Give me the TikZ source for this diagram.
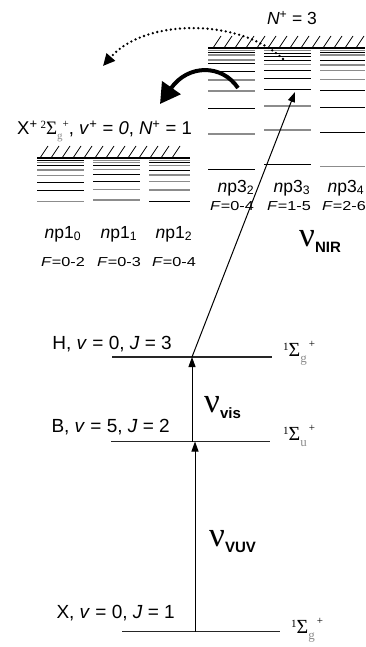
\documentclass[tikz,border=0pt]{standalone}
\usepackage{fontspec}
\setmainfont{Liberation Sans}
\newfontfamily\serifG{Liberation Serif}
\newfontfamily\wideF[FakeStretch=1.25]{Liberation Sans}
\usetikzlibrary{arrows.meta}
\definecolor{lvgray}{gray}{0.55}
\tikzset{
  lvlk/.style={draw=black, line width=0.9pt},
  lvlg/.style={draw=lvgray, line width=1.1pt},
  topline/.style={draw=black, line width=2pt},
  hatch/.style={draw=black, line width=0.8pt},
  mainlvl/.style={draw=black!85, line width=1.1pt},
  lbl/.style={font=\fontsize{19}{20}\selectfont, inner sep=0pt, anchor=base east},
  nplbl/.style={font=\fontsize{17.5}{18}\selectfont, inner sep=0pt, anchor=base},
  flbl/.style={font=\wideF\fontsize{13}{13}\selectfont, inner sep=0pt, anchor=base},
  siglbl/.style={inner sep=0pt, anchor=base west},
  exc/.style={draw=black, line width=1pt, -{Triangle[length=10pt,width=7pt]}},
  nulbl/.style={inner sep=0pt, anchor=base west}
}
\newcommand{\sigmalab}[1]{{\serifG\raisebox{6pt}{\fontsize{11}{11}\selectfont 1}\fontsize{20}{20}\selectfont Σ\raisebox{-6pt}{\color{lvgray}\fontsize{13}{13}\selectfont #1}\hspace{2pt}\raisebox{9pt}{\fontsize{11}{11}\selectfont +}}}
\newcommand{\nulab}[1]{{\serifG\fontsize{35}{35}\selectfont ν}\raisebox{-6pt}{\fontsize{15}{15}\selectfont\bfseries #1}}
\begin{document}
\begin{tikzpicture}[x=1pt,y=-1pt]
\useasboundingbox (0,0) rectangle (365,647);

% ---------- upper stack (N+ = 3)
\foreach \y/\c in {50.7/g,52.7/k,55/g,60/g,63.3/k,71.7/k,80/g,91/g,108.3/k,134/g,169.3/k}
  \draw[lvl\c] (208,\y) -- (255,\y);
\foreach \y/\c in {50.7/g,53.3/k,56.7/k,60/k,64.3/g,70/k,78.3/k,89.3/k,106/g,130/g,164.3/k}
  \draw[lvl\c] (264,\y) -- (311,\y);
\foreach \y/\c in {50.7/g,52.7/k,55/g,60/k,65/g,70.7/g,79.3/g,90.7/k,107.3/k,132.3/k,166.7/g}
  \draw[lvl\c] (320,\y) -- (365,\y);
\draw[topline] (208,48) -- (365,48);
\foreach \x in {213,224,...,357}
  \draw[hatch] (\x,48) -- (\x+8,36);

% ---------- lower stack (N+ = 1)
\foreach \y/\c in {160.7/k,162.7/g,165/k,170/g,175.7/g,182.3/k,190.7/k,201.7/g}
  \draw[lvl\c] (37,\y) -- (84,\y);
\foreach \y/\c in {160.7/g,162.7/g,165/k,169.3/g,174.3/k,181/k,189.3/g,200/g}
  \draw[lvl\c] (93,\y) -- (140,\y);
\foreach \y/\c in {160.7/g,162.7/k,165.7/g,170.7/k,175/g,181.7/g,190/g,201/k}
  \draw[lvl\c] (149,\y) -- (190,\y);
\draw[topline] (37,158) -- (190,158);
\foreach \x in {40,51,...,182}
  \draw[hatch] (\x,158) -- (\x+8,146);

% ---------- labels of the stacks
\node[inner sep=0pt, anchor=base, font=\fontsize{17.5}{18}\selectfont] (Nthree) at (292,25) {\textit{N}\textsuperscript{+} = 3};
\node[inner sep=0pt, anchor=base west, font=\fontsize{18.5}{20}\selectfont] (Xion) at (17,135)
  {X\textsuperscript{+}\,{\serifG\raisebox{6pt}{\fontsize{11}{11}\selectfont 2}\fontsize{19}{19}\selectfont Σ\raisebox{-5pt}{\color{lvgray}\fontsize{11}{11}\selectfont g}\raisebox{7pt}{\fontsize{11}{11}\selectfont +}}, \textit{v}\textsuperscript{+} = \textit{0}, \textit{N}\textsuperscript{+} = 1};

\node[nplbl] (np10) at (63,238) {\textit{n}p1\textsubscript{0}};
\node[nplbl] (np11) at (119,238) {\textit{n}p1\textsubscript{1}};
\node[nplbl] (np12) at (174,238) {\textit{n}p1\textsubscript{2}};
\node[flbl] (f10) at (63,266) {\textit{F}=0-2};
\node[flbl] (f11) at (119,266) {\textit{F}=0-3};
\node[flbl] (f12) at (174,266) {\textit{F}=0-4};

\node[nplbl] (np32) at (236,192) {\textit{n}p3\textsubscript{2}};
\node[nplbl] (np33) at (292,192) {\textit{n}p3\textsubscript{3}};
\node[nplbl] (np34) at (346,192) {\textit{n}p3\textsubscript{4}};
\node[flbl] (f32) at (232,210) {\textit{F}=0-4};
\node[flbl] (f33) at (289,210) {\textit{F}=1-5};
\node[flbl] (f34) at (344,210) {\textit{F}=2-6};

% ---------- molecular levels
\coordinate (Hl) at (112,357); \coordinate (Hr) at (272,357);
\coordinate (Bl) at (111,441.5); \coordinate (Br) at (270,441.5);
\coordinate (Xl) at (122,631.5); \coordinate (Xr) at (280,631.5);
\draw[mainlvl] (Hl) -- (Hr);
\draw[mainlvl] (Bl) -- (Br);
\draw[mainlvl] (Xl) -- (Xr);

\node[lbl] (Hlab) at (172,349) {H, \textit{v} = 0, \textit{J} = 3};
\node[lbl] (Blab) at (170,432) {B, \textit{v} = 5, \textit{J} = 2};
\node[lbl] (Xlab) at (175,618) {X, \textit{v} = 0, \textit{J} = 1};

\node[siglbl] (Hsig) at (283,356) {\sigmalab{g}};
\node[siglbl] (Bsig) at (283,440) {\sigmalab{u}};
\node[siglbl] (Xsig) at (291,633) {\sigmalab{g}};

% ---------- excitation arrows
\coordinate (vuvA) at (195,631.5); \coordinate (vuvB) at (195,441.5);
\coordinate (visA) at (192,441.5); \coordinate (visB) at (192,357);
\coordinate (nirA) at (192,357); \coordinate (nirB) at (295,92);
\draw[exc] (vuvA) -- (vuvB);
\draw[exc] (visA) -- (visB);
\draw[exc] (nirA) -- (nirB);

\node[nulbl] (nuvuv) at (209,546) {\nulab{VUV}};
\node[nulbl] (nuvis) at (204,412) {\nulab{vis}};
\node[nulbl] (nunir) at (299,246) {\nulab{NIR}};

% ---------- autoionisation arrows
\coordinate (thickA) at (238,88); \coordinate (thickB) at (160,104);
\draw[line width=4pt, -{Triangle[length=20pt,width=22pt]}]
  (thickA) .. controls (222,64) and (188,64) .. (thickB);
\coordinate (dotA) at (283,59); \coordinate (dotB) at (103,66);
\draw[line width=2.6pt, line cap=round, dash pattern=on 0pt off 4.6pt, -{Triangle[length=12pt,width=11pt]}]
  (dotA) .. controls (240,18) and (145,18) .. (dotB);
\end{tikzpicture}
\end{document}
